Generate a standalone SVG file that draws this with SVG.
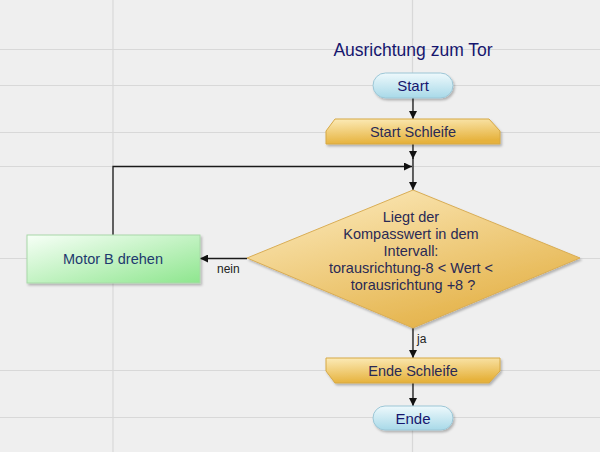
<svg xmlns="http://www.w3.org/2000/svg" width="600" height="452" viewBox="0 0 600 452">
<style>
  .grid { stroke: #d8d8d8; stroke-width: 1.2; }
  .conn { stroke: #1a1a1a; stroke-width: 1.3; fill: none; }
  .t { font-family: "Liberation Sans", Arial, sans-serif; text-anchor: middle; }
  .navy { fill: #16166e; }
  .dark { fill: #2a2a55; }
  .lbl { font-family: "Liberation Sans", Arial, sans-serif; font-size: 12px; fill: #222; }
</style>
<defs>
  <linearGradient id="gBlue" x1="0" y1="0" x2="0" y2="1">
    <stop offset="0" stop-color="#eef9fc"/>
    <stop offset="1" stop-color="#a8d9e8"/>
  </linearGradient>
  <linearGradient id="gGold" x1="0" y1="0" x2="0.2" y2="1">
    <stop offset="0" stop-color="#fcebb8"/>
    <stop offset="1" stop-color="#e6b23c"/>
  </linearGradient>
  <linearGradient id="gDia" x1="0.2" y1="0" x2="0.8" y2="1">
    <stop offset="0" stop-color="#fbe8b8"/>
    <stop offset="1" stop-color="#e2ad3e"/>
  </linearGradient>
  <linearGradient id="gGreen" x1="0" y1="0" x2="1" y2="1">
    <stop offset="0" stop-color="#f7fff7"/>
    <stop offset="1" stop-color="#8ee68e"/>
  </linearGradient>
  <filter id="sh" x="-10%" y="-10%" width="130%" height="140%">
    <feDropShadow dx="1.5" dy="2" stdDeviation="1.2" flood-color="#000" flood-opacity="0.25"/>
  </filter>
  <marker id="arr" viewBox="0 0 10 10" refX="10" refY="5" markerWidth="8" markerHeight="8" markerUnits="userSpaceOnUse" orient="auto">
    <path d="M0,0 L10,5 L0,10 z" fill="#111"/>
  </marker>
</defs>

<rect x="0" y="0" width="600" height="452" fill="#efefef"/>
<g id="grid">
  <line class="grid" x1="113" y1="0" x2="113" y2="452"/>
  <line class="grid" x1="412.5" y1="0" x2="412.5" y2="452"/>
  <line class="grid" x1="0" y1="49.5" x2="600" y2="49.5"/>
  <line class="grid" x1="0" y1="85.5" x2="600" y2="85.5"/>
  <line class="grid" x1="0" y1="132.5" x2="600" y2="132.5"/>
  <line class="grid" x1="0" y1="166.5" x2="600" y2="166.5"/>
  <line class="grid" x1="0" y1="258.5" x2="600" y2="258.5"/>
  <line class="grid" x1="0" y1="370.5" x2="600" y2="370.5"/>
  <line class="grid" x1="0" y1="417.5" x2="600" y2="417.5"/>
</g>

<text class="t navy" x="413" y="56" font-size="17.5">Ausrichtung zum Tor</text>

<g id="connectors">
  <line class="conn" x1="413" y1="98" x2="413" y2="119" marker-end="url(#arr)"/>
  <line class="conn" x1="413" y1="144" x2="413" y2="159" marker-end="url(#arr)"/>
  <line class="conn" x1="413" y1="158" x2="413" y2="190" marker-end="url(#arr)"/>
  <polyline class="conn" points="113,235 113,166.5 412,166.5" marker-end="url(#arr)"/>
  <line class="conn" x1="247" y1="258.5" x2="200" y2="258.5" marker-end="url(#arr)"/>
  <text class="lbl" x="217" y="273">nein</text>
  <line class="conn" x1="413" y1="328" x2="413" y2="358" marker-end="url(#arr)"/>
  <text class="lbl" x="417" y="343">ja</text>
  <line class="conn" x1="413" y1="383" x2="413" y2="406" marker-end="url(#arr)"/>
</g>

<g id="start">
  <rect x="373" y="73" width="80" height="25" rx="12.5" fill="url(#gBlue)" stroke="#9cc6d6" stroke-width="1" filter="url(#sh)"/>
  <text class="t navy" x="413" y="91" font-size="15">Start</text>
</g>

<g id="start-schleife">
  <polygon points="335,119 489,119 500,131 500,144 326,144 326,131" fill="url(#gGold)" stroke="#d6a845" stroke-width="1" filter="url(#sh)"/>
  <text class="t dark" x="413" y="137" font-size="14.5">Start Schleife</text>
</g>

<g id="decision">
  <polygon points="413,190 580,258 413,328 247,258" fill="url(#gDia)" stroke="#d9ad55" stroke-width="1" filter="url(#sh)"/>
  <text class="t dark" font-size="14.5">
    <tspan x="413" y="222">Liegt der</tspan>
    <tspan x="413" y="239">Kompasswert in dem</tspan>
    <tspan x="413" y="256">Intervall:</tspan>
    <tspan x="413" y="273">torausrichtung-8 &lt; Wert &lt;</tspan>
    <tspan x="413" y="290">torausrichtung +8 ?</tspan>
  </text>
</g>

<g id="motor">
  <rect x="27" y="235" width="173" height="48" fill="url(#gGreen)" stroke="#a8d8a8" stroke-width="1" filter="url(#sh)"/>
  <text class="t" x="113" y="264" font-size="14.5" fill="#1e3a6e">Motor B drehen</text>
</g>

<g id="ende-schleife">
  <polygon points="326,358 500,358 500,371 489,383 335,383 326,371" fill="url(#gGold)" stroke="#d6a845" stroke-width="1" filter="url(#sh)"/>
  <text class="t dark" x="413" y="376" font-size="14.5">Ende Schleife</text>
</g>

<g id="ende">
  <rect x="373" y="406" width="80" height="24" rx="12" fill="url(#gBlue)" stroke="#9cc6d6" stroke-width="1" filter="url(#sh)"/>
  <text class="t navy" x="413" y="423.5" font-size="15">Ende</text>
</g>
</svg>
